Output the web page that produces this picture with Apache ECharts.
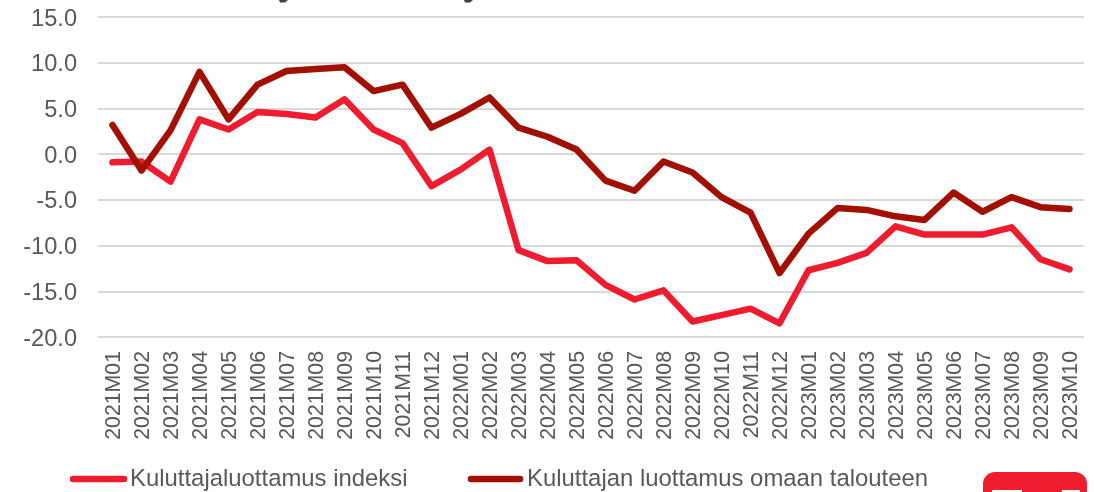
<!DOCTYPE html>
<html><head><meta charset="utf-8">
<style>html,body{margin:0;padding:0;background:#fff;overflow:hidden}#c{width:1094px;height:492px}</style>
<script src="https://cdn.jsdelivr.net/npm/echarts@6/dist/echarts.min.js"></script>
</head><body><div id="c"></div>
<script>
const categories=["2021M01","2021M02","2021M03","2021M04","2021M05","2021M06","2021M07","2021M08","2021M09","2021M10","2021M11","2021M12","2022M01","2022M02","2022M03","2022M04","2022M05","2022M06","2022M07","2022M08","2022M09","2022M10","2022M11","2022M12","2023M01","2023M02","2023M03","2023M04","2023M05","2023M06","2023M07","2023M08","2023M09","2023M10"];
const indeksi=[-0.9,-0.8,-3.0,3.8,2.7,4.6,4.4,4.0,6.0,2.7,1.2,-3.5,-1.7,0.5,-10.5,-11.7,-11.6,-14.3,-15.9,-14.9,-18.3,-17.6,-16.9,-18.5,-12.7,-11.9,-10.8,-7.9,-8.8,-8.8,-8.8,-8.0,-11.5,-12.6];
const omaTalous=[3.2,-1.8,2.6,9.0,3.8,7.6,9.1,9.3,9.5,6.9,7.6,2.9,4.4,6.2,2.9,1.9,0.5,-2.9,-4.0,-0.8,-2.0,-4.7,-6.4,-13.0,-8.7,-5.9,-6.1,-6.8,-7.2,-4.2,-6.3,-4.7,-5.8,-6.0];
const seriesNames=["Kuluttajaluottamus indeksi","Kuluttajan luottamus omaan talouteen"];
const colors=["#EE1C2E","#A30F00"];
const font='"Liberation Sans", Arial, sans-serif';
const chart=echarts.init(document.getElementById('c'),null,{renderer:'canvas'});
chart.setOption({
 animation:false,
 backgroundColor:'#fff',
 grid:{left:98,right:10,top:17,height:320,containLabel:false},
 xAxis:{type:'category',data:categories,boundaryGap:true,
  axisLine:{show:false},axisTick:{show:false},
  axisLabel:{rotate:90,interval:0,color:'#595959',fontSize:21.3,fontFamily:font,margin:14,verticalAlign:'top',lineHeight:3}},
 yAxis:{type:'value',min:-20,max:15,interval:5,
  axisLine:{show:false},axisTick:{show:false},
  splitLine:{lineStyle:{color:'#D9D9D9',width:2}},
  axisLabel:{color:'#595959',fontSize:23.6,fontFamily:font,margin:21,verticalAlign:'top',lineHeight:4,formatter:v=>v.toFixed(1)}},
 legend:{show:false},
 series:[
  {name:seriesNames[0],type:'line',data:indeksi,showSymbol:false,lineStyle:{color:colors[0],width:6.5,cap:'round',join:'round'},itemStyle:{color:colors[0]}},
  {name:seriesNames[1],type:'line',data:omaTalous,showSymbol:false,lineStyle:{color:colors[1],width:6.5,cap:'round',join:'round'},itemStyle:{color:colors[1]}}
 ],
 graphic:[
  {type:'polygon',shape:{points:[[279,0],[288,0],[285,2.5],[280,2.5]]},style:{fill:'#404040'}},
  {type:'polygon',shape:{points:[[464,0],[473,0],[470,2.5],[465,2.5]]},style:{fill:'#404040'}},
  {type:'line',shape:{x1:73,y1:479,x2:124,y2:479},style:{stroke:colors[0],lineWidth:6.5,lineCap:'round'}},
  {type:'text',x:130,y:479,style:{text:seriesNames[0],fill:'#595959',font:'23.9px '+font,textVerticalAlign:'middle'}},
  {type:'line',shape:{x1:471,y1:479,x2:520,y2:479},style:{stroke:colors[1],lineWidth:6.5,lineCap:'round'}},
  {type:'text',x:527,y:479,style:{text:seriesNames[1],fill:'#595959',font:'23.9px '+font,textVerticalAlign:'middle'}},
  {type:'rect',shape:{x:983,y:472,width:104,height:40,r:12},style:{fill:'#EE1C2E'}},
  {type:'rect',shape:{x:992,y:490,width:30,height:4},style:{fill:'#fff'}},
  {type:'rect',shape:{x:1062,y:490,width:18,height:4},style:{fill:'#fff'}}
 ]
});
</script></body></html>
